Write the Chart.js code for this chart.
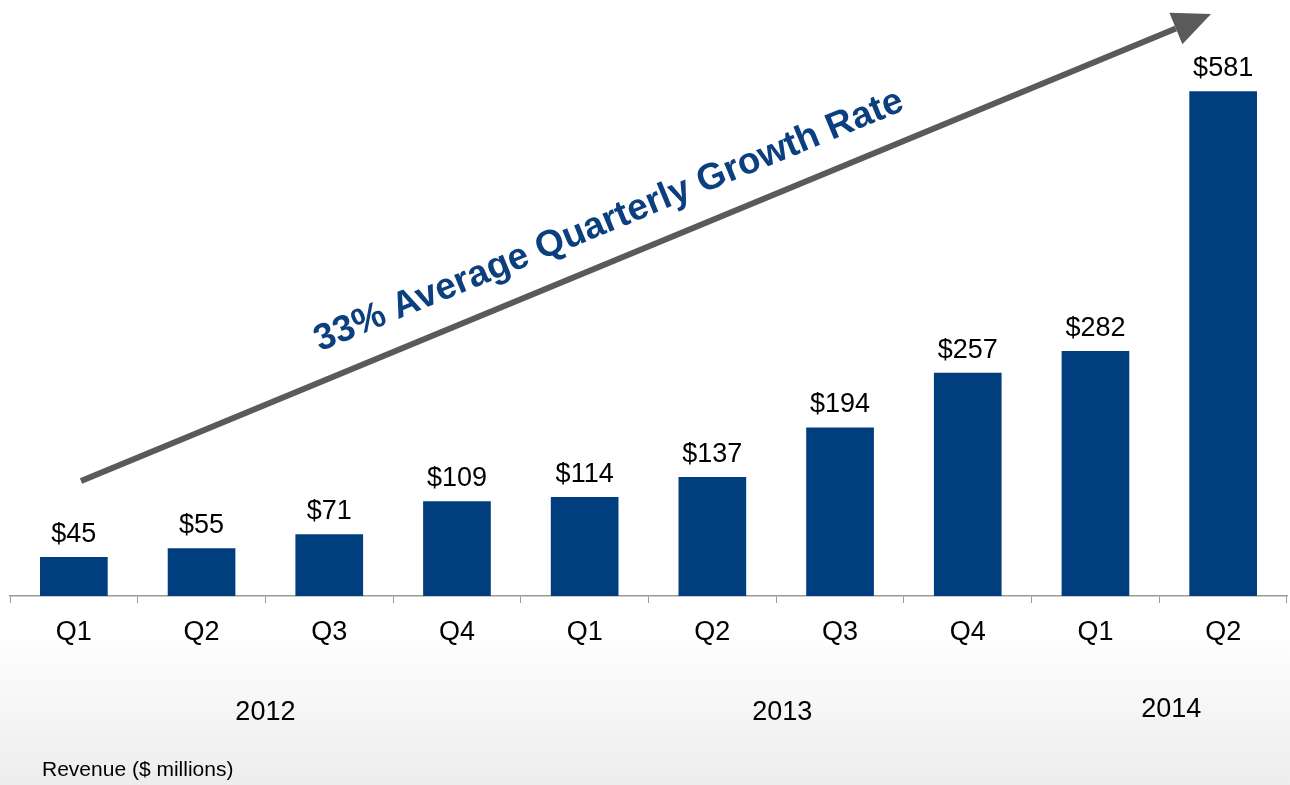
<!DOCTYPE html>
<html>
<head>
<meta charset="utf-8">
<script src="https://cdn.jsdelivr.net/npm/chart.js@4/dist/chart.umd.min.js"></script>
<style>
  html, body { margin: 0; padding: 0; }
  body {
    width: 1290px; height: 785px; overflow: hidden;
    background: linear-gradient(to bottom, #ffffff 0%, #ffffff 80%, #ededed 100%);
    font-family: "Liberation Sans", Arial, sans-serif;
  }
  #wrap { position: relative; width: 1290px; height: 785px; }
</style>
</head>
<body>
<div id="wrap"><canvas id="revenueChart"></canvas></div>
<script>
// Revenue per quarter ($ millions)
const quarters = ['Q1', 'Q2', 'Q3', 'Q4', 'Q1', 'Q2', 'Q3', 'Q4', 'Q1', 'Q2'];
const revenue = [45, 55, 71, 109, 114, 137, 194, 257, 282, 581];
const years = ['2012', '2013', '2014'];
const yearSpans = [[0, 3], [4, 7], [8, 9]];

const FONT = '"Liberation Sans", Arial, sans-serif';

// $ labels above bars, year row, growth arrow and footnote
const extras = {
    id: 'extras',
    afterDatasetsDraw(chart) {
        const ctx = chart.ctx;
        const meta = chart.getDatasetMeta(0);
        const x = chart.scales.x;

        ctx.save();
        ctx.fillStyle = '#000';
        ctx.font = '27px ' + FONT;
        ctx.textAlign = 'center';
        ctx.textBaseline = 'alphabetic';
        meta.data.forEach((bar, i) => {
            ctx.fillText('$' + revenue[i], bar.x, bar.y - 15);
        });

        // year labels centred under their quarters
        ctx.textBaseline = 'middle';
        const half = (x.getPixelForValue(1) - x.getPixelForValue(0)) / 2;
        yearSpans.forEach((span, i) => {
            const left = x.getPixelForValue(span[0]) - half;
            const right = x.getPixelForValue(span[1]) + half;
            ctx.fillText(years[i], (left + right) / 2 + i * 6, i === 2 ? 710 : 713);
        });

        ctx.textAlign = 'left';
        ctx.font = '21px ' + FONT;
        ctx.fillText('Revenue ($ millions)', 42, 770);

        // growth arrow
        const x0 = 81, y0 = 481, x1 = 1211, y1 = 14;
        const ang = Math.atan2(y1 - y0, x1 - x0);
        const headLen = 38, headW = 17;
        const bx = x1 - headLen * Math.cos(ang), by = y1 - headLen * Math.sin(ang);
        ctx.strokeStyle = '#5a5a5a';
        ctx.fillStyle = '#5a5a5a';
        ctx.lineWidth = 6;
        ctx.beginPath();
        ctx.moveTo(x0, y0);
        ctx.lineTo(bx, by);
        ctx.stroke();
        ctx.beginPath();
        ctx.moveTo(x1, y1);
        ctx.lineTo(bx + headW * Math.sin(ang), by - headW * Math.cos(ang));
        ctx.lineTo(bx - headW * Math.sin(ang), by + headW * Math.cos(ang));
        ctx.closePath();
        ctx.fill();

        // rotated growth text
        ctx.translate(609, 221);
        ctx.rotate(ang);
        ctx.font = 'bold 37px ' + FONT;
        ctx.textAlign = 'center';
        ctx.textBaseline = 'middle';
        ctx.lineWidth = 4;
        ctx.strokeStyle = '#ffffff';
        ctx.strokeText('33% Average Quarterly Growth Rate', 0, 0);
        ctx.fillStyle = '#0c3f80';
        ctx.fillText('33% Average Quarterly Growth Rate', 0, 0);
        ctx.restore();
    }
};

new Chart(document.getElementById('revenueChart'), {
    type: 'bar',
    data: {
        labels: quarters,
        datasets: [{
            data: revenue,
            backgroundColor: '#003e7e',
            categoryPercentage: 1,
            barPercentage: 0.53
        }]
    },
    options: {
        responsive: true,
        maintainAspectRatio: false,
        animation: false,
        layout: {
            padding: { left: 10, right: 3, top: 0, bottom: 0 }
        },
        scales: {
            x: {
                grid: {
                    drawOnChartArea: false,
                    drawTicks: true,
                    tickLength: 7,
                    color: '#9a9a9a'
                },
                border: { display: true, color: '#9a9a9a', width: 1.5 },
                ticks: {
                    color: '#000',
                    padding: 13,
                    font: { family: FONT, size: 27 }
                },
                afterFit(scale) { scale.height = 189; }
            },
            y: {
                display: false,
                min: 0,
                max: 686
            }
        },
        plugins: {
            legend: { display: false },
            tooltip: { enabled: false }
        }
    },
    plugins: [extras]
});
</script>
</body>
</html>
